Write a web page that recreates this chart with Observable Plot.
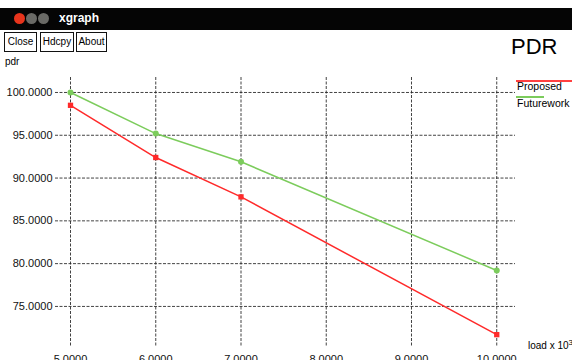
<!DOCTYPE html>
<html>
<head>
<meta charset="utf-8">
<script src="https://cdn.jsdelivr.net/npm/d3@7"></script>
<script src="https://cdn.jsdelivr.net/npm/@observablehq/plot@0.6"></script>
<style>
  html, body { margin: 0; padding: 0; background: #fff; }
  #win { position: relative; width: 572px; height: 360px; overflow: hidden; font-family: "Liberation Sans", Arial, sans-serif; background:#fff; }
  #bar { position: absolute; left: 0; top: 8px; width: 572px; height: 22px; background: #050505; }
  .dot { position: absolute; top: 5px; width: 11px; height: 11px; border-radius: 50%; }
  #title { position: absolute; left: 59px; top: 3px; color: #fff; font-weight: bold; font-size: 12px; }
  .btn { position: absolute; top: 32px; height: 18px; border: 1.5px solid #111; font-size: 10px; line-height: 18px; text-align: center; background: #fff; box-sizing: content-box; }
  #ylab { position: absolute; left: 5px; top: 56px; font-size: 10px; }
  #pdr { position: absolute; left: 511px; top: 34px; font-size: 22px; }
  #xlab { position: absolute; left: 528px; top: 338px; font-size: 10px; white-space: nowrap; }
  .leg { position: absolute; left: 517px; font-size: 10.5px; white-space: nowrap; }
  .legline { position: absolute; left: 516px; height: 1.5px; }
  #plot { position: absolute; left: 0; top: 55px; }
</style>
</head>
<body>
<div id="win">
  <div id="bar">
    <div class="dot" style="left:14px;background:#e8341c"></div>
    <div class="dot" style="left:26px;background:#6a6a66"></div>
    <div class="dot" style="left:38px;background:#6a6a66"></div>
    <div id="title">xgraph</div>
  </div>
  <div class="btn" style="left:4px;width:31px">Close</div>
  <div class="btn" style="left:40px;width:32px">Hdcpy</div>
  <div class="btn" style="left:76px;width:29px">About</div>
  <div id="ylab">pdr</div>
  <div id="pdr">PDR</div>
  <div class="legline" style="top:80px;width:56px;background:#ff4040"></div>
  <div class="leg" style="top:80px">Proposed</div>
  <div class="legline" style="top:96px;width:28px;background:#7ccc5c"></div>
  <div class="leg" style="top:97px">Futurework</div>
  <div id="xlab">load x 10<sup style="font-size:8px">3</sup></div>
  <div id="plot"></div>
</div>
<script>
const loads = [5, 6, 7, 10];
const proposed = [98.5, 92.4, 87.8, 71.7];
const futurework = [100.0, 95.2, 91.9, 79.2];
const xTicks = [5, 6, 7, 8, 9, 10];
const yTicks = [75, 80, 85, 90, 95, 100];
const seriesNames = ["Proposed", "Futurework"];
const seriesColors = ["#ff2a2a", "#7ccc5c"];

const data = [];
loads.forEach((x, i) => data.push({series: seriesNames[0], x, y: proposed[i]}));
loads.forEach((x, i) => data.push({series: seriesNames[1], x, y: futurework[i]}));

const gridStyle = {stroke: "#222", strokeWidth: 1, strokeDasharray: "3,1.5", strokeOpacity: 0.85};

const chart = Plot.plot({
  width: 572,
  height: 305,
  marginLeft: 55,
  marginRight: 57,
  marginTop: 22,
  marginBottom: 13,
  style: {fontFamily: "Liberation Sans, Arial, sans-serif", fontSize: "11px", color: "#111", background: "transparent", overflow: "visible"},
  x: {domain: [4.824, 10.22], ticks: xTicks, tickFormat: d3.format(".4f")},
  y: {domain: [70.2, 101.75], ticks: yTicks, tickFormat: d3.format(".4f")},
  color: {domain: seriesNames, range: seriesColors},
  marks: [
    Plot.ruleX(xTicks, {x: d => d, ...gridStyle}),
    Plot.ruleY(yTicks, {y: d => d, ...gridStyle}),
    Plot.axisY({ticks: yTicks, tickSize: 0, tickPadding: 3, label: null, tickFormat: d3.format(".4f"), fontSize: 11}),
    Plot.axisX({ticks: xTicks, tickSize: 0, tickPadding: 8, label: null, tickFormat: d3.format(".4f"), fontSize: 11}),
    Plot.line(data, {x: "x", y: "y", z: "series", stroke: "series", strokeWidth: 1.5}),
    Plot.dot(data, {x: "x", y: "y", fill: "series", r: 3, symbol: d => d.series === "Proposed" ? "square" : "circle"})
  ]
});
document.getElementById("plot").appendChild(chart);
</script>
</body>
</html>
